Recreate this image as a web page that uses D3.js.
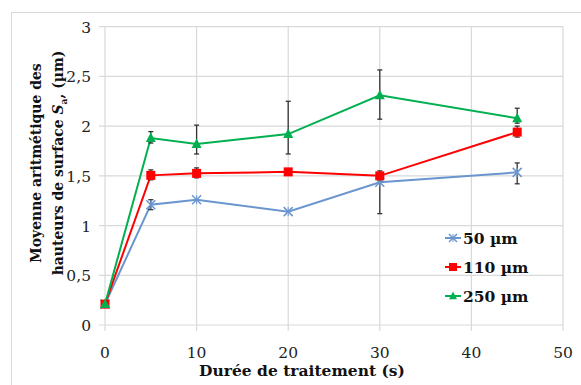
<!DOCTYPE html>
<html><head><meta charset="utf-8">
<script src="https://cdn.jsdelivr.net/npm/d3@7"></script>
<style>body{margin:0;background:#fff}svg{display:block}</style>
</head><body>
<script>
const durations = [0, 5, 10, 20, 30, 45];
const seriesNames = ["50 µm", "110 µm", "250 µm"];
const s50 = [0.21, 1.21, 1.26, 1.14, 1.435, 1.535];
const s50Hi = [0.21, 1.26, 1.26, 1.14, 1.47, 1.63];
const s50Lo = [0.21, 1.16, 1.26, 1.14, 1.12, 1.42];
const s110 = [0.21, 1.505, 1.525, 1.54, 1.50, 1.94];
const s110Hi = [0.21, 1.56, 1.58, 1.54, 1.55, 2.0];
const s110Lo = [0.21, 1.46, 1.48, 1.54, 1.45, 1.89];
const s250 = [0.21, 1.88, 1.82, 1.92, 2.31, 2.08];
const s250Hi = [0.21, 1.945, 2.01, 2.25, 2.565, 2.18];
const s250Lo = [0.21, 1.83, 1.72, 1.72, 2.07, 2.03];
const xTicks = [0, 10, 20, 30, 40, 50];
const yTicks = [0, 0.5, 1, 1.5, 2, 2.5, 3];
const colors = ["#6a95cf", "#ff0000", "#00b050"];
const markers = ["x", "square", "triangle"];

const W = 581, H = 385;
const svg = d3.select("body").append("svg").attr("width", W).attr("height", H);
const x = d3.scaleLinear().domain([0, 50]).range([105, 563]);
const y = d3.scaleLinear().domain([0, 3]).range([325, 26.7]);

// outer frame
svg.append("rect").attr("x", 11.5).attr("y", 12.5).attr("width", 600).attr("height", 400)
  .attr("fill", "none").attr("stroke", "#d9d9d9");

// grid
const g = svg.append("g");
g.selectAll(".hg").data(yTicks).enter().append("line")
  .attr("x1", 99).attr("x2", x(50)).attr("y1", d => y(d)).attr("y2", d => y(d))
  .attr("stroke", "#d9d9d9").attr("stroke-width", 1.2);
g.selectAll(".vg").data(xTicks).enter().append("line")
  .attr("x1", d => x(d)).attr("x2", d => x(d)).attr("y1", y(3)).attr("y2", 331)
  .attr("stroke", "#d9d9d9").attr("stroke-width", 1.2);

const tickFont = "'DejaVu Serif', serif";
svg.selectAll(".yl").data(yTicks).enter().append("text")
  .attr("x", 91).attr("y", d => y(d) + 6).attr("text-anchor", "end")
  .attr("font-family", tickFont).attr("font-size", 15.5).attr("fill", "#222")
  .text(d => d3.format("")(d).replace(".", ","));
svg.selectAll(".xl").data(xTicks).enter().append("text")
  .attr("x", d => x(d)).attr("y", 358).attr("text-anchor", "middle")
  .attr("font-family", tickFont).attr("font-size", 15.5).attr("fill", "#222")
  .text(d => d);

// axis titles
svg.append("text").attr("x", 302).attr("y", 376).attr("text-anchor", "middle")
  .attr("font-family", tickFont).attr("font-weight", "bold").attr("font-size", 15.5).attr("fill", "#111")
  .text("Durée de traitement (s)");
const yt = svg.append("text").attr("transform", "translate(41,163) rotate(-90)")
  .attr("text-anchor", "middle").attr("font-family", tickFont).attr("font-weight", "bold")
  .attr("font-stretch", "condensed")
  .attr("font-size", 15.5).attr("fill", "#111");
yt.append("tspan").attr("x", 0).attr("dy", 0).text("Moyenne aritmétique des");
const l2 = yt.append("tspan").attr("x", 0).attr("dy", 22);
l2.append("tspan").text("hauteurs de surface ");
l2.append("tspan").attr("font-style", "italic").text("S");
l2.append("tspan").attr("font-size", 10).attr("dy", 4).text("a");
l2.append("tspan").attr("dy", -4).text(", (µm)");

const all = [
  {v: s50, hi: s50Hi, lo: s50Lo},
  {v: s110, hi: s110Hi, lo: s110Lo},
  {v: s250, hi: s250Hi, lo: s250Lo}
];

function drawMarker(sel, type, color, cx, cy, size) {
  if (type === "x") {
    const r = size / 2;
    sel.append("path").attr("d", `M${cx - r},${cy - r}L${cx + r},${cy + r}M${cx - r},${cy + r}L${cx + r},${cy - r}`)
      .attr("stroke", color).attr("stroke-width", 1.5).attr("fill", "none");
    sel.append("path").attr("d", `M${cx},${cy - r}L${cx},${cy + r}`)
      .attr("stroke", color).attr("stroke-width", 1).attr("fill", "none");
  } else if (type === "square") {
    sel.append("rect").attr("x", cx - size / 2).attr("y", cy - size / 2)
      .attr("width", size).attr("height", size).attr("fill", color);
  } else {
    const r = size / 2;
    sel.append("path").attr("d", `M${cx},${cy - r * 1.1}L${cx + r},${cy + r * 0.8}L${cx - r},${cy + r * 0.8}Z`)
      .attr("fill", color);
  }
}

const line = d3.line().x(d => x(d[0])).y(d => y(d[1]));
all.forEach((s, i) => {
  const pts = durations.map((d, j) => [d, s.v[j]]);
  svg.append("path").attr("d", line(pts)).attr("fill", "none")
    .attr("stroke", colors[i]).attr("stroke-width", 2);
});
// error bars
all.forEach((s, i) => {
  const eg = svg.append("g");
  durations.forEach((d, j) => {
    if (s.hi[j] - s.lo[j] < 0.02) return;
    const cx = x(d);
    eg.append("line").attr("x1", cx).attr("x2", cx).attr("y1", y(s.hi[j])).attr("y2", y(s.lo[j]))
      .attr("stroke", "#333").attr("stroke-width", 1.3);
    [s.hi[j], s.lo[j]].forEach(v => eg.append("line").attr("x1", cx - 2.5).attr("x2", cx + 2.5)
      .attr("y1", y(v)).attr("y2", y(v)).attr("stroke", "#333").attr("stroke-width", 1.3));
  });
});
// markers
all.forEach((s, i) => {
  const mg = svg.append("g");
  durations.forEach((d, j) => {
    const sz = markers[i] === "triangle" ? 10 : 9;
    drawMarker(mg, markers[i], colors[i], x(d), y(s.v[j]), sz);
  });
});

// legend
const legY = [238, 267, 296];
seriesNames.forEach((n, i) => {
  const lg = svg.append("g");
  lg.append("line").attr("x1", 445).attr("x2", 461).attr("y1", legY[i]).attr("y2", legY[i])
    .attr("stroke", colors[i]).attr("stroke-width", 2);
  drawMarker(lg, markers[i], colors[i], 453, legY[i], 8);
  lg.append("text").attr("x", 463).attr("y", legY[i] + 6)
    .attr("font-family", tickFont).attr("font-weight", "bold").attr("font-size", 15.5)
    .attr("fill", "#111").text(n);
});
</script>
</body></html>
